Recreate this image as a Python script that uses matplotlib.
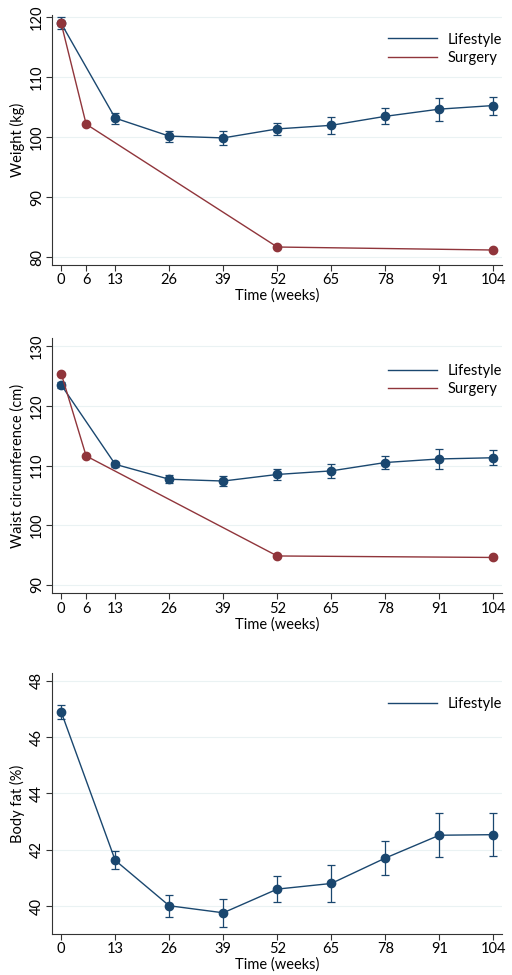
import numpy as np
import matplotlib
matplotlib.use("Agg")
from matplotlib import pyplot as plt

plt.rcParams['font.family'] = ['Lato', 'DejaVu Sans']

navy = '#1a476f'
maroon = '#90353b'
grid_col = '#eaf2f3'

# weight (kg)
wt_weeks = [0, 13, 26, 39, 52, 65, 78, 91, 104]
wt_life = [119.0, 103.2, 100.2, 99.9, 101.4, 102.0, 103.5, 104.7, 105.3]
wt_life_err = [1.0, 0.9, 0.9, 1.1, 1.0, 1.4, 1.35, 1.9, 1.5]
wt_surg_weeks = [0, 6, 52, 104]
wt_surg = [119.0, 102.2, 81.7, 81.2]

# waist circumference (cm)
wc_weeks = [0, 13, 26, 39, 52, 65, 78, 91, 104]
wc_life = [123.5, 110.2, 107.7, 107.4, 108.5, 109.1, 110.5, 111.1, 111.3]
wc_life_err = [0.45, 0.45, 0.7, 0.9, 0.9, 1.15, 1.1, 1.65, 1.25]
wc_surg_weeks = [0, 6, 52, 104]
wc_surg = [125.4, 111.6, 94.85, 94.6]

# body fat (%)
bf_weeks = [0, 13, 26, 39, 52, 65, 78, 91, 104]
bf_life = [46.89, 41.63, 40.02, 39.77, 40.61, 40.81, 41.71, 42.52, 42.54]
bf_life_err = [0.25, 0.32, 0.39, 0.5, 0.45, 0.64, 0.59, 0.78, 0.76]

fig = plt.figure(figsize=(5.12, 9.75), dpi=100)

panels = [
    dict(rect=[0.1025, 0.7282, 0.878, 0.2564], x=wt_weeks, y=wt_life, e=wt_life_err,
         sx=wt_surg_weeks, sy=wt_surg, ylim=(78.7, 120.4), yticks=[80, 90, 100, 110, 120],
         xticks=[0, 6, 13, 26, 39, 52, 65, 78, 91, 104], ylabel='Weight (kg)', leg_y=0.93),
    dict(rect=[0.1025, 0.3915, 0.878, 0.2615], x=wc_weeks, y=wc_life, e=wc_life_err,
         sx=wc_surg_weeks, sy=wc_surg, ylim=(88.6, 131.3), yticks=[90, 100, 110, 120, 130],
         xticks=[0, 6, 13, 26, 39, 52, 65, 78, 91, 104], ylabel='Waist circumference (cm)', leg_y=0.90),
    dict(rect=[0.1025, 0.0421, 0.878, 0.2673], x=bf_weeks, y=bf_life, e=bf_life_err,
         sx=None, sy=None, ylim=(39.02, 48.26), yticks=[40, 42, 44, 46, 48],
         xticks=[0, 13, 26, 39, 52, 65, 78, 91, 104], ylabel='Body fat (%)', leg_y=0.91),
]

for p in panels:
    ax = fig.add_axes(p['rect'])
    ax.set_xlim(-2.1, 106.1)
    ax.set_ylim(*p['ylim'])
    ax.set_yticks(p['yticks'])
    ax.set_xticks(p['xticks'])
    ax.grid(axis='y', color=grid_col, linewidth=0.8)
    ax.set_axisbelow(True)
    for s in ['top', 'right']:
        ax.spines[s].set_visible(False)
    for s in ['left', 'bottom']:
        ax.spines[s].set_color('#333333')
        ax.spines[s].set_linewidth(0.8)
    ax.tick_params(axis='both', direction='out', length=4, width=0.8, color='#333333',
                   labelsize=10.5, pad=2)
    for lab in ax.get_yticklabels():
        lab.set_rotation(90)
        lab.set_va('center')

    ax.errorbar(p['x'], p['y'], yerr=p['e'], fmt='none', ecolor=navy, elinewidth=0.9,
                capsize=3, capthick=0.9, zorder=2)
    ax.plot(p['x'], p['y'], color=navy, linewidth=1.0, marker='o', markersize=6,
            label='Lifestyle', zorder=3)
    if p['sx'] is not None:
        ax.plot(p['sx'], p['sy'], color=maroon, linewidth=1.0, marker='o', markersize=6,
                label='Surgery', zorder=3)

    ax.set_xlabel('Time (weeks)', fontsize=10.5, labelpad=1)
    ax.set_ylabel(p['ylabel'], fontsize=10.5, labelpad=4)

    h, l = ax.get_legend_handles_labels()
    handles = [plt.Line2D([], [], color=hh.get_color(), linewidth=1.0) for hh in h]
    ax.legend(handles, l, loc='upper right', bbox_to_anchor=(1.0, p['leg_y']), frameon=False,
              fontsize=10.5, handlelength=3.4, handletextpad=0.7, labelspacing=0.3,
              borderpad=0, borderaxespad=0)

fig.savefig('out.png', dpi=100)
